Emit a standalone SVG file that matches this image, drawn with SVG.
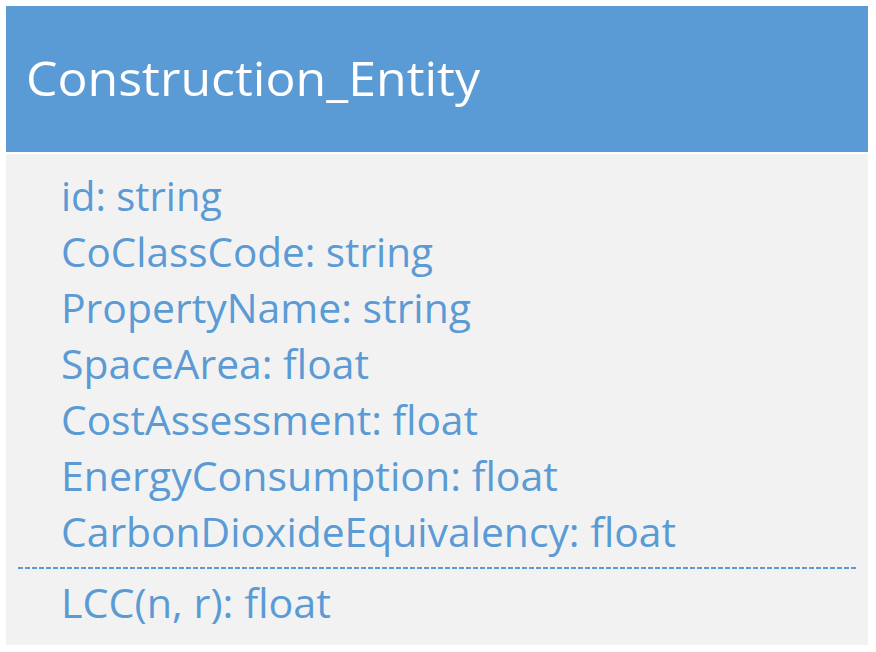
<svg xmlns="http://www.w3.org/2000/svg" width="876" height="652" viewBox="0 0 876 652">
  <style>
    .title { font-family: "Open Sans", "Noto Sans", sans-serif; font-size: 48px; fill: #ffffff; }
    .item { font-family: "Open Sans", "Noto Sans", sans-serif; font-size: 41px; fill: #5b9bd5; }
    .sep { stroke: #5b9bd5; stroke-width: 2; stroke-dasharray: 5 2; fill: none; }
  </style>
  <rect x="0" y="0" width="876" height="652" fill="#ffffff"/>
  <g id="Construction_Entity">
    <rect x="6" y="6" width="862" height="146" fill="#5b9bd5"/>
    <rect x="6" y="154" width="862" height="491" fill="#f2f2f2"/>
    <text class="title" x="26" y="96" textLength="454" lengthAdjust="spacingAndGlyphs">Construction_Entity</text>
    <text class="item" x="61" y="211" textLength="161" lengthAdjust="spacingAndGlyphs">id: string</text>
    <text class="item" x="61" y="267" textLength="372" lengthAdjust="spacingAndGlyphs">CoClassCode: string</text>
    <text class="item" x="61" y="323" textLength="410" lengthAdjust="spacingAndGlyphs">PropertyName: string</text>
    <text class="item" x="61" y="379" textLength="308" lengthAdjust="spacingAndGlyphs">SpaceArea: float</text>
    <text class="item" x="61" y="435" textLength="417" lengthAdjust="spacingAndGlyphs">CostAssessment: float</text>
    <text class="item" x="61" y="491" textLength="497" lengthAdjust="spacingAndGlyphs">EnergyConsumption: float</text>
    <text class="item" x="61" y="547" textLength="615" lengthAdjust="spacingAndGlyphs">CarbonDioxideEquivalency: float</text>
    <line class="sep" x1="18" y1="568" x2="857" y2="568"/>
    <text class="item" x="61" y="618" textLength="270" lengthAdjust="spacingAndGlyphs">LCC(n, r): float</text>
  </g>
</svg>
